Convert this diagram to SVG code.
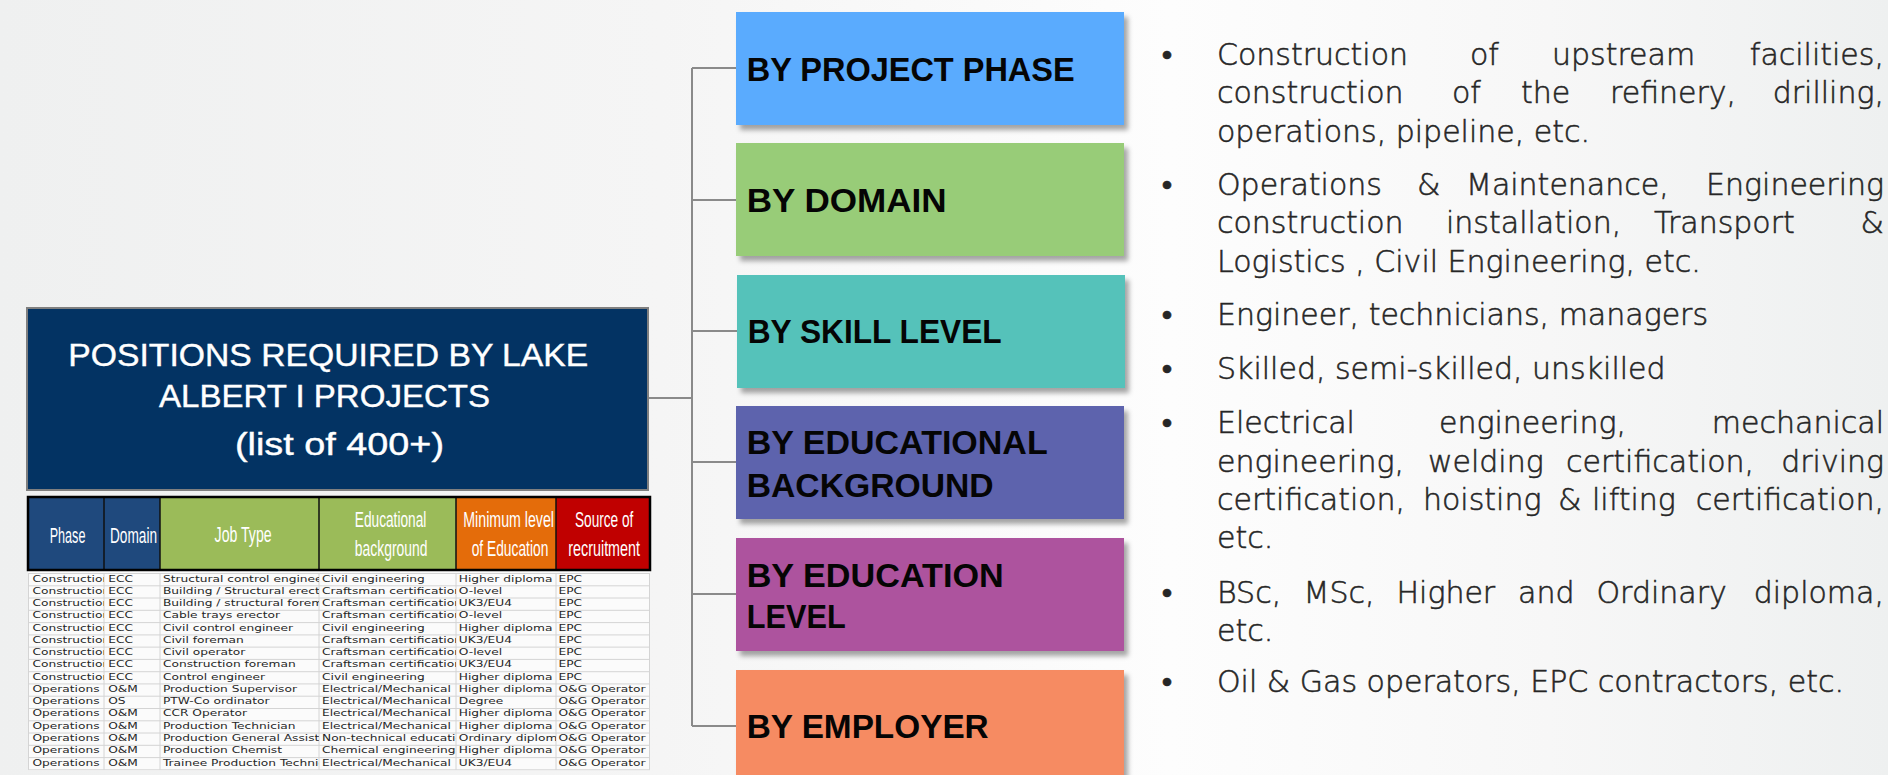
<svg xmlns="http://www.w3.org/2000/svg" width="1888" height="775" viewBox="0 0 1888 775">
<defs>
<linearGradient id="bg" x1="0" y1="0" x2="1" y2="0">
<stop offset="0" stop-color="#eff0f0"/>
<stop offset="0.35" stop-color="#f5f5f5"/>
<stop offset="0.62" stop-color="#fdfdfd"/>
<stop offset="0.82" stop-color="#f7f7f7"/>
<stop offset="1" stop-color="#eef0f0"/>
</linearGradient>
<filter id="sh" x="-5%" y="-5%" width="115%" height="125%">
<feDropShadow dx="4" dy="5" stdDeviation="2.5" flood-color="#000" flood-opacity="0.35"/>
</filter>
<clipPath id="k1"><rect x="28" y="571" width="76" height="204"/></clipPath>
<clipPath id="k2"><rect x="104" y="571" width="56" height="204"/></clipPath>
<clipPath id="k3"><rect x="160" y="571" width="159" height="204"/></clipPath>
<clipPath id="k4"><rect x="319" y="571" width="137" height="204"/></clipPath>
<clipPath id="k5"><rect x="456" y="571" width="100" height="204"/></clipPath>
<clipPath id="k6"><rect x="556" y="571" width="94" height="204"/></clipPath>
</defs>
<style>
.title{font-family:"Liberation Sans",Arial,sans-serif;font-size:31px;fill:#ffffff;stroke:#ffffff;stroke-width:0.4px}
.lbl{font-family:"Liberation Sans",Arial,sans-serif;font-weight:bold;font-size:34px;fill:#050505}
.bul{font-family:"DejaVu Sans",sans-serif;font-size:30px;font-weight:300;fill:#262626;stroke:#262626;stroke-width:0.55px}
.th{font-family:"Liberation Sans",Arial,sans-serif;font-size:22px;fill:#ffffff}
.td{font-family:"DejaVu Sans",sans-serif;font-size:9.4px;fill:#262626}
.conn{fill:none;stroke:#8a8a8a;stroke-width:2}
.grid{stroke:#d4d4d4;stroke-width:1}
</style>
<rect x="0" y="0" width="1888" height="775" fill="url(#bg)"/>

<g id="connectors">
<path class="conn" d="M648 398 H692 M692 68 V726 M692 68 H737 M692 200 H737 M692 331 H737 M692 462 H737 M692 594 H737 M692 726 H737"/>
</g>

<g id="main">
<rect x="27" y="308" width="621" height="182" fill="#033363" stroke="#7f7f7f" stroke-width="2"/>
<text class="title" x="68.3" y="366" textLength="520" lengthAdjust="spacingAndGlyphs">POSITIONS REQUIRED BY LAKE</text>
<text class="title" x="159" y="407" textLength="331" lengthAdjust="spacingAndGlyphs">ALBERT I PROJECTS</text>
<text class="title" x="235" y="455" textLength="209" lengthAdjust="spacingAndGlyphs">(list of 400+)</text>
</g>

<g id="table">
<rect x="28" y="571" width="622" height="200" fill="#fbfbfb"/>
<rect x="28" y="497" width="76" height="73" fill="#1f497d"/>
<rect x="104" y="497" width="56" height="73" fill="#1f497d"/>
<rect x="160" y="497" width="159" height="73" fill="#9bbb59"/>
<rect x="319" y="497" width="137" height="73" fill="#9bbb59"/>
<rect x="456" y="497" width="100" height="73" fill="#e46c0a"/>
<rect x="556" y="497" width="94" height="73" fill="#c00000"/>
<path d="M104 497 V570 M160 497 V570 M319 497 V570 M456 497 V570 M556 497 V570" stroke="#111" stroke-width="1.5"/>
<rect x="28" y="497" width="622" height="73" fill="none" stroke="#000" stroke-width="2.5"/>
<text class="th" x="49.7" y="543" textLength="35.7" lengthAdjust="spacingAndGlyphs">Phase</text>
<text class="th" x="110" y="543" textLength="47" lengthAdjust="spacingAndGlyphs">Domain</text>
<text class="th" x="214.6" y="542" textLength="57" lengthAdjust="spacingAndGlyphs">Job Type</text>
<text class="th" x="354.8" y="527" textLength="71.5" lengthAdjust="spacingAndGlyphs">Educational</text>
<text class="th" x="354.8" y="556" textLength="72.7" lengthAdjust="spacingAndGlyphs">background</text>
<text class="th" x="463.3" y="527" textLength="90.7" lengthAdjust="spacingAndGlyphs">Minimum level</text>
<text class="th" x="471.7" y="556" textLength="76.6" lengthAdjust="spacingAndGlyphs">of Education</text>
<text class="th" x="575" y="527" textLength="58.3" lengthAdjust="spacingAndGlyphs">Source of</text>
<text class="th" x="568.3" y="556" textLength="71.7" lengthAdjust="spacingAndGlyphs">recruitment</text>
<path class="grid" d="M28 573.5 H650 M28 585.8 H650 M28 598 H650 M28 610.3 H650 M28 622.6 H650 M28 634.9 H650 M28 647.1 H650 M28 659.4 H650 M28 671.7 H650 M28 683.9 H650 M28 696.2 H650 M28 708.5 H650 M28 720.8 H650 M28 733 H650 M28 745.3 H650 M28 757.6 H650 M28 769.8 H650 M28.5 573.5 V769.8 M104 573.5 V769.8 M160 573.5 V769.8 M319 573.5 V769.8 M456 573.5 V769.8 M556 573.5 V769.8 M649.5 573.5 V769.8"/>
<g clip-path="url(#k1)"><g class="td" transform="translate(32.4 0) scale(1.3 1)">
<text y="581.7">Construction</text><text y="593.8">Construction</text><text y="606">Construction</text><text y="618.3">Construction</text><text y="630.6">Construction</text><text y="642.9">Construction</text><text y="655.1">Construction</text><text y="667.4">Construction</text><text y="679.7">Construction</text><text y="691.9">Operations</text><text y="704.2">Operations</text><text y="716.5">Operations</text><text y="728.7">Operations</text><text y="741">Operations</text><text y="753.3">Operations</text><text y="765.6">Operations</text>
</g></g>
<g clip-path="url(#k2)"><g class="td" transform="translate(108.2 0) scale(1.3 1)">
<text y="581.7">ECC</text><text y="593.8">ECC</text><text y="606">ECC</text><text y="618.3">ECC</text><text y="630.6">ECC</text><text y="642.9">ECC</text><text y="655.1">ECC</text><text y="667.4">ECC</text><text y="679.7">ECC</text><text y="691.9">O&amp;M</text><text y="704.2">OS</text><text y="716.5">O&amp;M</text><text y="728.7">O&amp;M</text><text y="741">O&amp;M</text><text y="753.3">O&amp;M</text><text y="765.6">O&amp;M</text>
</g></g>
<g clip-path="url(#k3)"><g class="td" transform="translate(162.9 0) scale(1.3 1)">
<text y="581.7">Structural control engineer</text><text y="593.8">Building / Structural erector</text><text y="606">Building / structural foreman</text><text y="618.3">Cable trays erector</text><text y="630.6">Civil control engineer</text><text y="642.9">Civil foreman</text><text y="655.1">Civil operator</text><text y="667.4">Construction foreman</text><text y="679.7">Control engineer</text><text y="691.9">Production Supervisor</text><text y="704.2">PTW-Co ordinator</text><text y="716.5">CCR Operator</text><text y="728.7">Production Technician</text><text y="741">Production General Assistant</text><text y="753.3">Production Chemist</text><text y="765.6">Trainee Production Technician</text>
</g></g>
<g clip-path="url(#k4)"><g class="td" transform="translate(322 0) scale(1.3 1)">
<text y="581.7">Civil engineering</text><text y="593.8">Craftsman certification</text><text y="606">Craftsman certification</text><text y="618.3">Craftsman certification</text><text y="630.6">Civil engineering</text><text y="642.9">Craftsman certification</text><text y="655.1">Craftsman certification</text><text y="667.4">Craftsman certification</text><text y="679.7">Civil engineering</text><text y="691.9">Electrical/Mechanical</text><text y="704.2">Electrical/Mechanical</text><text y="716.5">Electrical/Mechanical</text><text y="728.7">Electrical/Mechanical</text><text y="741">Non-technical education</text><text y="753.3">Chemical engineering</text><text y="765.6">Electrical/Mechanical</text>
</g></g>
<g clip-path="url(#k5)"><g class="td" transform="translate(458.8 0) scale(1.3 1)">
<text y="581.7">Higher diploma</text><text y="593.8">O-level</text><text y="606">UK3/EU4</text><text y="618.3">O-level</text><text y="630.6">Higher diploma</text><text y="642.9">UK3/EU4</text><text y="655.1">O-level</text><text y="667.4">UK3/EU4</text><text y="679.7">Higher diploma</text><text y="691.9">Higher diploma</text><text y="704.2">Degree</text><text y="716.5">Higher diploma</text><text y="728.7">Higher diploma</text><text y="741">Ordinary diploma</text><text y="753.3">Higher diploma</text><text y="765.6">UK3/EU4</text>
</g></g>
<g clip-path="url(#k6)"><g class="td" transform="translate(558.5 0) scale(1.3 1)">
<text y="581.7">EPC</text><text y="593.8">EPC</text><text y="606">EPC</text><text y="618.3">EPC</text><text y="630.6">EPC</text><text y="642.9">EPC</text><text y="655.1">EPC</text><text y="667.4">EPC</text><text y="679.7">EPC</text><text y="691.9">O&amp;G Operator</text><text y="704.2">O&amp;G Operator</text><text y="716.5">O&amp;G Operator</text><text y="728.7">O&amp;G Operator</text><text y="741">O&amp;G Operator</text><text y="753.3">O&amp;G Operator</text><text y="765.6">O&amp;G Operator</text>
</g></g>
</g>

<g id="phase">
<rect x="736" y="12" width="388" height="113" fill="#5aabfe" filter="url(#sh)"/>
<text class="lbl" x="746.7" y="81" textLength="328" lengthAdjust="spacingAndGlyphs">BY PROJECT PHASE</text>
</g>
<g id="domain">
<rect x="736" y="143" width="388" height="113" fill="#98cc78" filter="url(#sh)"/>
<text class="lbl" x="746.7" y="212" textLength="200" lengthAdjust="spacingAndGlyphs">BY DOMAIN</text>
</g>
<g id="skill">
<rect x="737" y="275" width="388" height="113" fill="#54c2ba" filter="url(#sh)"/>
<text class="lbl" x="747.7" y="343" textLength="254" lengthAdjust="spacingAndGlyphs">BY SKILL LEVEL</text>
</g>
<g id="edubg">
<rect x="736" y="406" width="388" height="113" fill="#5d63ad" filter="url(#sh)"/>
<text class="lbl" x="746.7" y="454" textLength="301" lengthAdjust="spacingAndGlyphs">BY EDUCATIONAL</text>
<text class="lbl" x="746.7" y="497" textLength="247" lengthAdjust="spacingAndGlyphs">BACKGROUND</text>
</g>
<g id="edulevel">
<rect x="736" y="538" width="388" height="113" fill="#ad529e" filter="url(#sh)"/>
<text class="lbl" x="746.7" y="587" textLength="257" lengthAdjust="spacingAndGlyphs">BY EDUCATION</text>
<text class="lbl" x="746.7" y="628" textLength="99" lengthAdjust="spacingAndGlyphs">LEVEL</text>
</g>
<g id="employer">
<rect x="736" y="670" width="388" height="120" fill="#f68b62" filter="url(#sh)"/>
<text class="lbl" x="746.7" y="738" textLength="242" lengthAdjust="spacingAndGlyphs">BY EMPLOYER</text>
</g>

<g id="bullets" class="bul">
<text x="1167" y="65" text-anchor="middle">•</text>
<text y="65"><tspan x="1217">Construction</tspan><tspan x="1470">of</tspan><tspan x="1552">upstream</tspan></text>
<text x="1884" y="65" text-anchor="end">facilities,</text>
<text y="103"><tspan x="1217">construction</tspan><tspan x="1452">of</tspan><tspan x="1521">the</tspan><tspan x="1610">refinery,</tspan></text>
<text x="1884" y="103" text-anchor="end">drilling,</text>
<text x="1217" y="142">operations, pipeline, etc.</text>

<text x="1167" y="195" text-anchor="middle">•</text>
<text y="195"><tspan x="1217">Operations</tspan><tspan x="1417">&amp;</tspan><tspan x="1466">Maintenance,</tspan></text>
<text x="1884" y="195" text-anchor="end">Engineering</text>
<text y="233"><tspan x="1217">construction</tspan><tspan x="1446">installation,</tspan><tspan x="1654">Transport</tspan></text>
<text x="1884" y="233" text-anchor="end">&amp;</text>
<text x="1217" y="272">Logistics , Civil Engineering, etc.</text>

<text x="1167" y="325" text-anchor="middle">•</text>
<text x="1217" y="325">Engineer, technicians, managers</text>

<text x="1167" y="379" text-anchor="middle">•</text>
<text x="1217" y="379">Skilled, semi-skilled, unskilled</text>

<text x="1167" y="433" text-anchor="middle">•</text>
<text y="433"><tspan x="1217">Electrical</tspan><tspan x="1439">engineering,</tspan></text>
<text x="1884" y="433" text-anchor="end">mechanical</text>
<text y="471.7"><tspan x="1217">engineering,</tspan><tspan x="1428">welding</tspan><tspan x="1566">certification,</tspan></text>
<text x="1884" y="471.7" text-anchor="end">driving</text>
<text y="510"><tspan x="1217">certification,</tspan><tspan x="1423">hoisting</tspan><tspan x="1558">&amp;</tspan><tspan x="1592">lifting</tspan></text>
<text x="1884" y="510" text-anchor="end">certification,</text>
<text x="1217" y="548.3">etc.</text>

<text x="1167" y="603.3" text-anchor="middle">•</text>
<text y="603.3"><tspan x="1217">BSc,</tspan><tspan x="1303.5">MSc,</tspan><tspan x="1396.5">Higher</tspan><tspan x="1518">and</tspan><tspan x="1596.5">Ordinary</tspan></text>
<text x="1884" y="603.3" text-anchor="end">diploma,</text>
<text x="1217" y="640.7">etc.</text>

<text x="1167" y="691.7" text-anchor="middle">•</text>
<text x="1217" y="691.7">Oil &amp; Gas operators, EPC contractors, etc.</text>
</g>
</svg>
